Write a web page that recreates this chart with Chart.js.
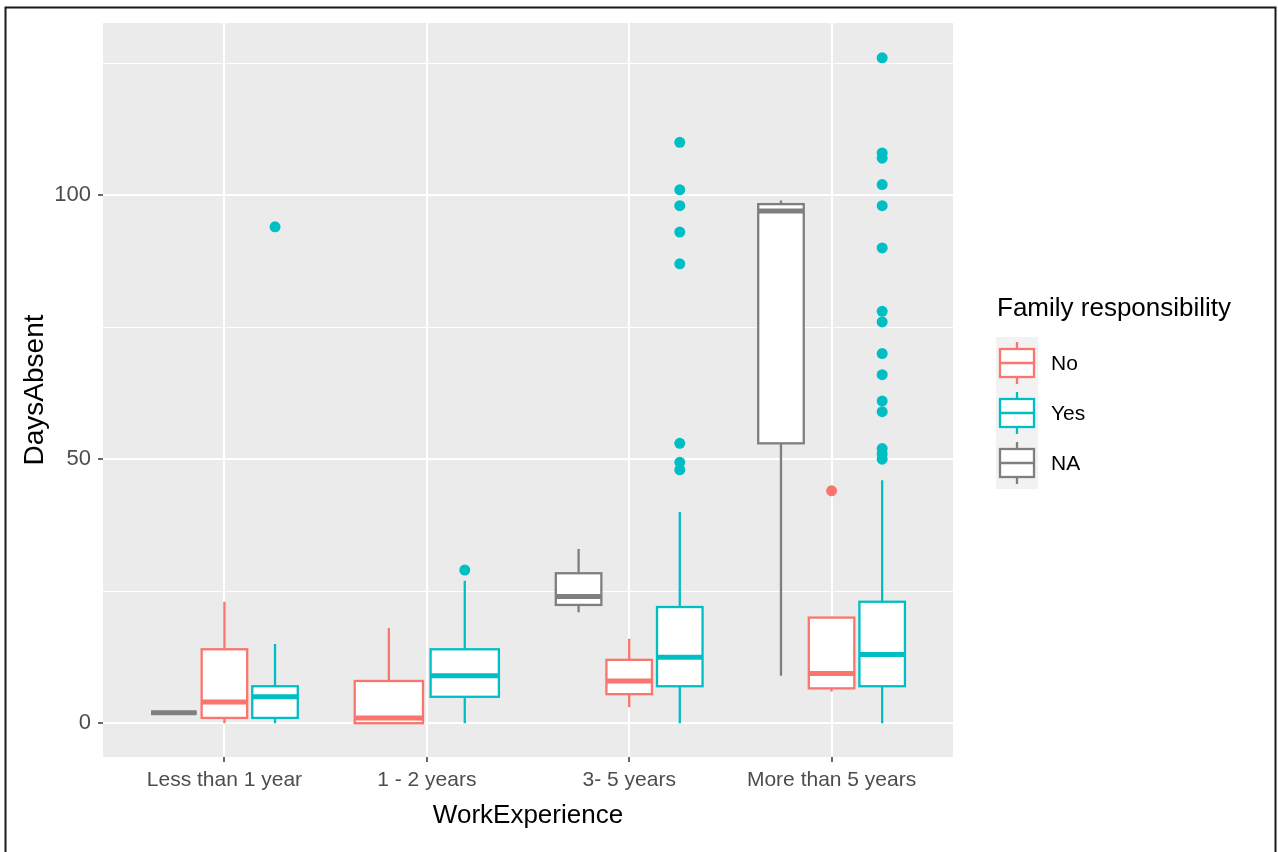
<!DOCTYPE html>
<html><head><meta charset="utf-8">
<script src="https://cdn.jsdelivr.net/npm/chart.js@4.4.0/dist/chart.umd.min.js"></script>
<style>html,body{margin:0;padding:0;background:#fff;overflow:hidden}</style>
</head><body>
<canvas id="c" width="1278" height="852"></canvas>
<script>
// ---------- data ----------
const categories = ['Less than 1 year', '1 - 2 years', '3- 5 years', 'More than 5 years'];
const groupNames = ['No', 'Yes', 'NA'];

const noLower   = [0, 0, 3, 6];
const noQ1      = [1, 0, 5.5, 6.6];
const noMedian  = [4, 1, 8, 9.4];
const noQ3      = [14, 8, 12, 20];
const noUpper   = [23, 18, 16, 20];
const noOutliers = [[], [], [], [44]];

const yesLower  = [0, 0, 0, 0];
const yesQ1     = [1, 5, 7, 7];
const yesMedian = [5, 9, 12.5, 13];
const yesQ3     = [7, 14, 22, 23];
const yesUpper  = [15, 27, 40, 46];
const yesOutliers = [[94], [29], [110, 101, 98, 93, 87, 53, 49.4, 48],
  [126, 108, 107, 102, 98, 90, 78, 76, 70, 66, 61, 59, 52, 51, 50]];

const naLower   = [2, null, 21, 9];
const naQ1      = [2, null, 22.4, 53];
const naMedian  = [2, null, 24, 97];
const naQ3      = [2, null, 28.4, 98.3];
const naUpper   = [2, null, 33, 99];
const naOutliers = [[], [], [], []];

const yTickValues = [0, 25, 50, 75, 100, 125];
const yLabelValues = [0, 50, 100];

// ---------- styling ----------
const FONT = "'Liberation Sans', Arial, Helvetica, sans-serif";
const COLORS = { No: '#F8766D', Yes: '#00BFC4', NA: '#7F7F7F' };
const stats = {
  No:  { lower: noLower,  q1: noQ1,  median: noMedian,  q3: noQ3,  upper: noUpper,  out: noOutliers },
  Yes: { lower: yesLower, q1: yesQ1, median: yesMedian, q3: yesQ3, upper: yesUpper, out: yesOutliers },
  NA:  { lower: naLower,  q1: naQ1,  median: naMedian,  q3: naQ3,  upper: naUpper,  out: naOutliers }
};
const dodgeOrder = ['NA', 'No', 'Yes'];

function layoutFor(ci) {
  const present = dodgeOrder.filter(g => stats[g].median[ci] !== null);
  const n = present.length;
  const slot = 0.75 / n;
  const res = {};
  present.forEach((g, k) => { res[g] = { x: ci + 1 + (k - (n - 1) / 2) * slot, w: slot * 0.9 }; });
  return res;
}

const boxPlugin = {
  id: 'boxes',
  beforeDraw(chart) {
    const { ctx, chartArea: a } = chart;
    ctx.save();
    ctx.fillStyle = '#fff';
    ctx.fillRect(0, 0, chart.width, chart.height);
    ctx.fillStyle = '#EBEBEB';
    ctx.fillRect(a.left, a.top, a.right - a.left, a.bottom - a.top);
    ctx.restore();
  },
  beforeDatasetsDraw(chart) {
    const { ctx, scales: { x, y } } = chart;
    ctx.save();
    categories.forEach((c, ci) => {
      const L = layoutFor(ci);
      dodgeOrder.forEach(g => {
        if (!L[g]) return;
        const s = stats[g];
        const cx = x.getPixelForValue(L[g].x);
        const xl = x.getPixelForValue(L[g].x - L[g].w / 2);
        const xr = x.getPixelForValue(L[g].x + L[g].w / 2);
        const pLo = y.getPixelForValue(s.lower[ci]);
        const pQ1 = y.getPixelForValue(s.q1[ci]);
        const pMed = y.getPixelForValue(s.median[ci]);
        const pQ3 = y.getPixelForValue(s.q3[ci]);
        const pUp = y.getPixelForValue(s.upper[ci]);
        ctx.strokeStyle = COLORS[g];
        ctx.lineWidth = 2.3;
        ctx.beginPath();
        ctx.moveTo(cx, pQ3); ctx.lineTo(cx, pUp);
        ctx.moveTo(cx, pQ1); ctx.lineTo(cx, pLo);
        ctx.stroke();
        ctx.fillStyle = '#fff';
        ctx.fillRect(xl, pQ3, xr - xl, pQ1 - pQ3);
        ctx.strokeRect(xl, pQ3, xr - xl, pQ1 - pQ3);
        ctx.lineWidth = 5;
        ctx.beginPath();
        ctx.moveTo(xl, pMed); ctx.lineTo(xr, pMed);
        ctx.stroke();
      });
    });
    ctx.restore();
  },
  afterDraw(chart) {
    const ctx = chart.ctx;
    ctx.save();
    // legend
    ctx.fillStyle = '#000';
    ctx.textBaseline = 'middle';
    ctx.textAlign = 'left';
    ctx.font = '26px ' + FONT;
    ctx.fillText('Family responsibility', 997, 309);
    ctx.fillStyle = '#F2F2F2';
    ctx.fillRect(996, 337, 42, 152);
    groupNames.forEach((g, i) => {
      const cy = 363 + 50 * i;
      const cx = 1017;
      ctx.strokeStyle = COLORS[g];
      ctx.lineWidth = 2.3;
      ctx.beginPath();
      ctx.moveTo(cx, cy - 21); ctx.lineTo(cx, cy + 21);
      ctx.stroke();
      ctx.fillStyle = '#fff';
      ctx.fillRect(1000, cy - 14, 34, 28);
      ctx.strokeRect(1000, cy - 14, 34, 28);
      ctx.beginPath();
      ctx.moveTo(1000, cy); ctx.lineTo(1034, cy);
      ctx.stroke();
      ctx.fillStyle = '#000';
      ctx.font = '21px ' + FONT;
      ctx.fillText(g, 1051, cy + 1);
    });
    // outer frame
    ctx.strokeStyle = '#1a1a1a';
    ctx.lineWidth = 2;
    ctx.strokeRect(5.5, 7.5, 1270, 900);
    ctx.restore();
  }
};

const datasets = groupNames.map(g => ({
  label: g,
  type: 'scatter',
  data: categories.flatMap((c, ci) => {
    const L = layoutFor(ci)[g];
    return L ? stats[g].out[ci].map(v => ({ x: L.x, y: v })) : [];
  }),
  backgroundColor: COLORS[g],
  borderWidth: 0,
  pointRadius: 5.5,
  pointHoverRadius: 5.5
}));

new Chart(document.getElementById('c'), {
  type: 'scatter',
  data: { datasets },
  plugins: [boxPlugin],
  options: {
    responsive: false,
    animation: false,
    devicePixelRatio: 1,
    layout: { padding: { left: 8, top: 23, right: 325, bottom: 0 } },
    plugins: { legend: { display: false }, tooltip: { enabled: false } },
    scales: {
      x: {
        type: 'linear', min: 0.4, max: 4.6,
        afterBuildTicks: s => { s.ticks = categories.map((c, i) => ({ value: i + 1 })); },
        afterFit: s => { s.height = 95; },
        ticks: {
          callback: v => categories[Math.round(v) - 1] || '',
          font: { family: FONT, size: 21 }, color: '#4D4D4D',
          padding: 6, maxRotation: 0, autoSkip: false
        },
        grid: { color: '#fff', lineWidth: 2, tickColor: '#333', tickLength: 5, tickWidth: 1.5 },
        border: { display: false },
        title: { display: true, text: 'WorkExperience', color: '#000',
          font: { family: FONT, size: 26 }, padding: { top: 0, bottom: 21 } }
      },
      y: {
        type: 'linear', min: -6.4, max: 132.6,
        afterBuildTicks: s => { s.ticks = yTickValues.map(v => ({ value: v })); },
        afterFit: s => { s.width = 95; },
        ticks: {
          callback: v => yLabelValues.includes(v) ? String(v) : '',
          font: { family: FONT, size: 22 }, color: '#4D4D4D',
          padding: 7, autoSkip: false
        },
        grid: {
          color: '#fff',
          lineWidth: c => (c.tick && yLabelValues.includes(c.tick.value)) ? 2 : 1,
          tickColor: c => (c.tick && yLabelValues.includes(c.tick.value)) ? '#333' : 'rgba(0,0,0,0)',
          tickLength: 5, tickWidth: 1.5
        },
        border: { display: false },
        title: { display: true, text: 'DaysAbsent', color: '#000',
          font: { family: FONT, size: 28 }, padding: { top: 10, bottom: 0 } }
      }
    }
  }
});
</script>
</body></html>
